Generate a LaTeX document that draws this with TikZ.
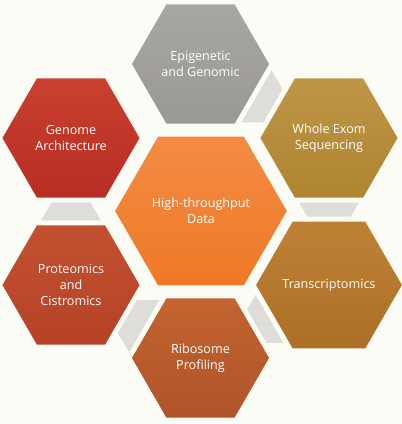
\documentclass[tikz,border=0pt]{standalone}
\usepackage{fontspec}
\setmainfont{Open Sans}
\usetikzlibrary{shapes.geometric, calc}

\begin{document}
\begin{tikzpicture}[x=1pt, y=-1pt,
    hexbox/.style={regular polygon, regular polygon sides=6, inner sep=0pt,
        minimum size=143.2pt, draw=bgcol, line width=5pt, text=white,
        align=center, font=\fontsize{12.6}{16}\selectfont},
    linkhex/.style={regular polygon, regular polygon sides=6, inner sep=0pt,
        minimum size=72pt, fill=linkgray}]
        % Colours
        \definecolor{bgcol}{RGB}{252, 252, 247}
        \definecolor{linkgray}{RGB}{222, 221, 217}

        % Page
        \useasboundingbox (0,0) rectangle (402,424);
        \fill[bgcol] (0,0) rectangle (402,424);

        % 1. Centres of the hexagons
        \coordinate (c-hub) at (201,211);
        \coordinate (c-epi) at (200.5,64);
        \coordinate (c-wes) at (329,138);
        \coordinate (c-trans) at (329,285);
        \coordinate (c-ribo) at (200.5,358);
        \coordinate (c-prot) at (71,285);
        \coordinate (c-geno) at (71,138);

        % 2. Small grey hexagons between neighbours (behind)
        \foreach \a/\b [count=\i] in {epi/wes, wes/trans, trans/ribo, ribo/prot, prot/geno} {
            \node[linkhex] (link\i) at ($(c-\a)!0.367!(c-\b)$) {};
        }

        % 3. Outer hexagons
        \node[hexbox, top color={rgb,255:red,169;green,167;blue,163}, bottom color={rgb,255:red,154;green,152;blue,147}]
            (epi) at (c-epi) {Epigenetic\\and Genomic};
        \node[hexbox, top color={rgb,255:red,191;green,150;blue,70}, bottom color={rgb,255:red,174;green,132;blue,48}]
            (wes) at (c-wes) {Whole Exom\\Sequencing};
        \node[hexbox, top color={rgb,255:red,190;green,129;blue,52}, bottom color={rgb,255:red,173;green,111;blue,39}]
            (trans) at (c-trans) {Transcriptomics};
        \node[hexbox, top color={rgb,255:red,194;green,101;blue,47}, bottom color={rgb,255:red,176;green,83;blue,42}]
            (ribo) at (c-ribo) {Ribosome\\Profiling};
        \node[hexbox, top color={rgb,255:red,194;green,81;blue,49}, bottom color={rgb,255:red,181;green,66;blue,37}]
            (prot) at (c-prot) {Proteomics\\and\\Cistromics};
        \node[hexbox, top color={rgb,255:red,201;green,65;blue,47}, bottom color={rgb,255:red,183;green,45;blue,36}]
            (geno) at (c-geno) {Genome\\Architecture};

        % 4. Centre hexagon
        \node[hexbox, minimum size=177.8pt, top color={rgb,255:red,243;green,140;blue,68}, bottom color={rgb,255:red,239;green,120;blue,38}]
            (hub) at (c-hub) {High-throughput\\Data};
\end{tikzpicture}
\end{document}
